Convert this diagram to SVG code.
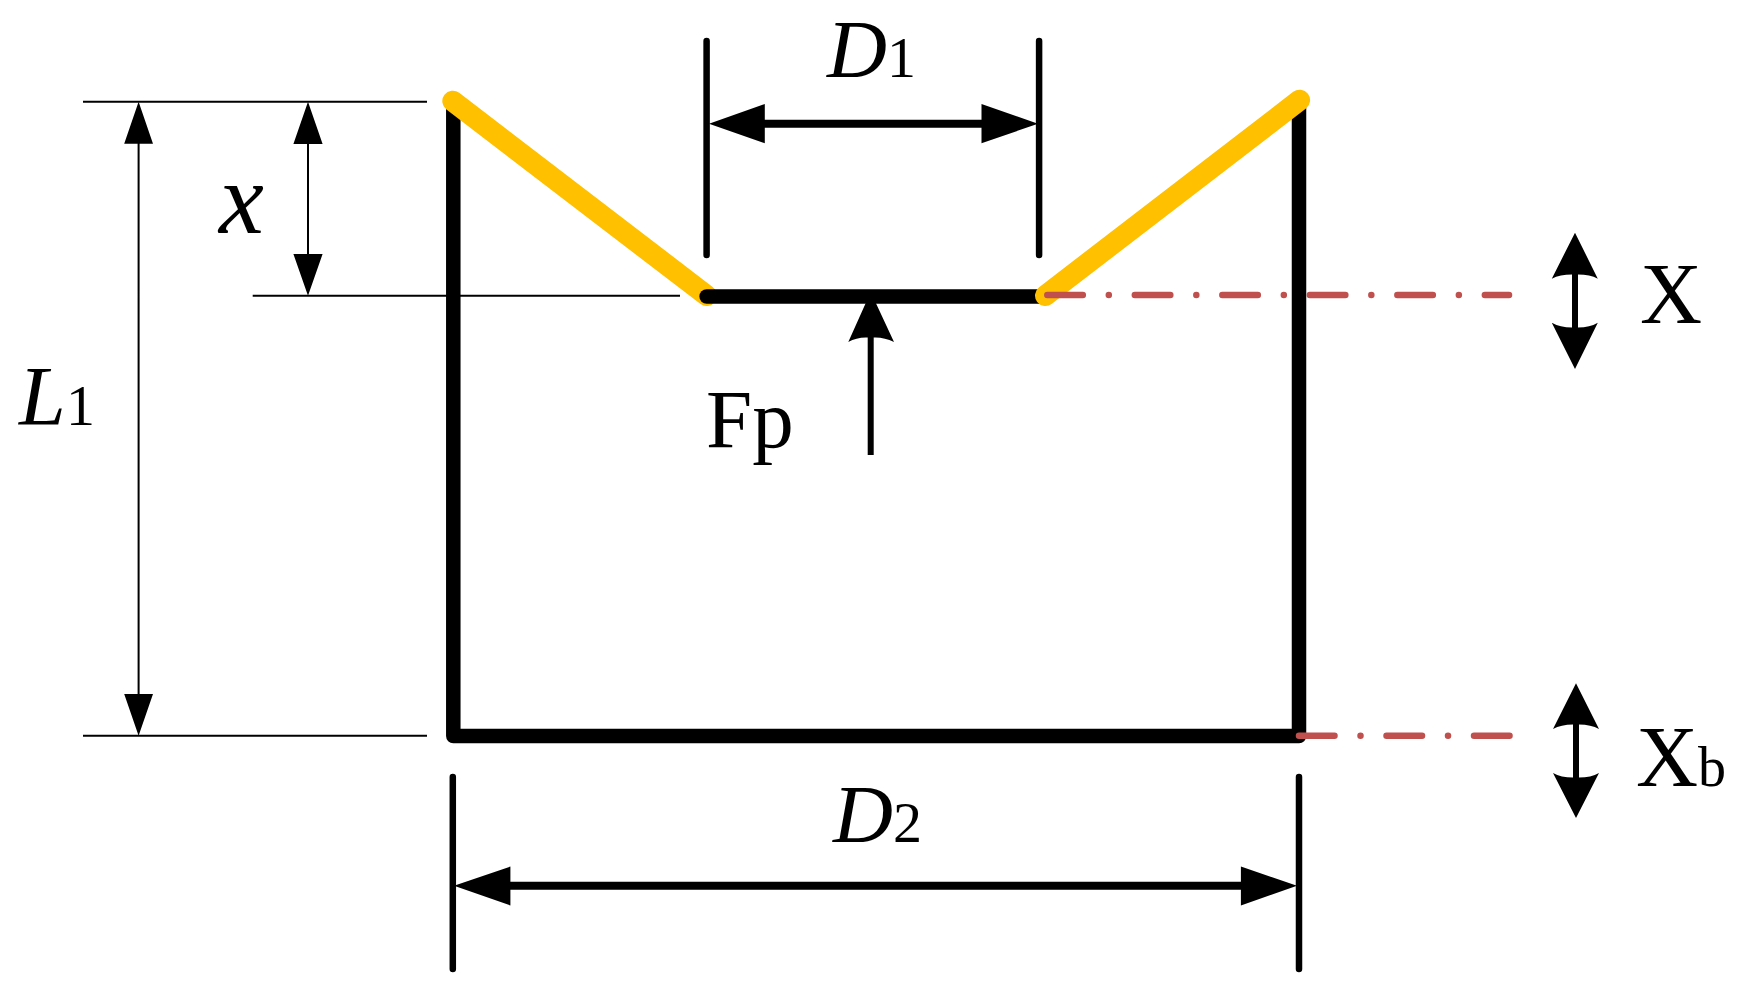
<svg xmlns="http://www.w3.org/2000/svg" width="1738" height="994" viewBox="0 0 1738 994">
<style>
text{font-family:"Liberation Serif","Times New Roman",serif;fill:#000}
.i{font-style:italic}
.thin{stroke:#000;stroke-width:2;fill:none}
.mid{stroke:#000;stroke-width:6.5;stroke-linecap:round;fill:none}
.wall{stroke:#000;stroke-width:14.5;stroke-linejoin:round;fill:none}
.bar{stroke:#000;stroke-width:14.5;stroke-linecap:round;fill:none}
.gold{stroke:#FFC000;stroke-width:21;stroke-linecap:round;fill:none}
.red{stroke:#C0504D;stroke-width:6.5;stroke-linecap:round;stroke-dasharray:35.5 26 0.01 26;fill:none}
.shaft{stroke:#000;stroke-width:8;fill:none}
</style>
<rect width="1738" height="994" fill="#fff"/>
<g id="connectors">
<path class="thin" d="M83 101.7H427M83 735.7H427M252.7 295.7H680M138.6 120V716M308 120V276"/>
<path d="M138.6 101.7L124.200 143.7H153ZM138.6 735.7L124.200 694H153ZM308 101.7L293.400 144H322.600ZM308 295.700L293.400 254H322.600Z"/>
<path class="mid" d="M706.6 41V255M1039.1 41V255M452.8 777V969M1299 777V969"/>
<path class="shaft" d="M760 123.7H985M505 885.7H1245"/>
<path d="M709 123.7L764.8 104V143.300ZM1038 123.7L981.5 104V143.300ZM454 885.7L510.400 866.500V905.500ZM1297 885.700L1240.900 866.500V905.500Z"/>
<path d="M870.700 292L848.300 342Q857 337 867.700 337.500V455H873.700V337.500Q884 337 894 342Z"/>
<path d="M1575 232.700L1551.800 278.700Q1560 274.500 1572 274.500V327.500Q1560 327.500 1551.800 322.700L1575 369L1597.800 322.700Q1590 327.500 1578 327.500V274.500Q1590 274.500 1597.800 278.700Z"/>
<path d="M1576 683.300L1553 729Q1561 724.500 1573 724.500V777.500Q1561 777.500 1553 773L1576 818L1599 773Q1591 777.500 1579 777.500V724.500Q1591 724.500 1599 729Z"/>
</g>
<g id="body">
<path class="wall" d="M453.300 102V736H1299V102"/>
<path class="gold" d="M452.800 101.200L706.600 295.500"/>
<path class="bar" d="M706.600 296.500H1045"/>
<path class="gold" d="M1299.600 100.200L1045.500 295.500"/>
<path class="red" d="M1047.300 295H1509"/>
<path class="red" d="M1299 735.700H1510.300"/>
</g>
<g id="labels">
<text x="19" y="425" font-size="84" class="i">L</text><text x="66" y="425" font-size="58">1</text>
<text x="219" y="233" font-size="101" class="i">x</text>
<text x="827" y="77" font-size="83" class="i">D</text><text x="887" y="77" font-size="58">1</text>
<text x="833" y="842" font-size="83" class="i">D</text><text x="893" y="842" font-size="58">2</text>
<text x="706" y="447" font-size="83">Fp</text>
<text x="1640" y="323" font-size="86">X</text>
<text x="1636" y="786" font-size="86">X</text><text x="1698" y="786" font-size="56">b</text>
</g>
</svg>
